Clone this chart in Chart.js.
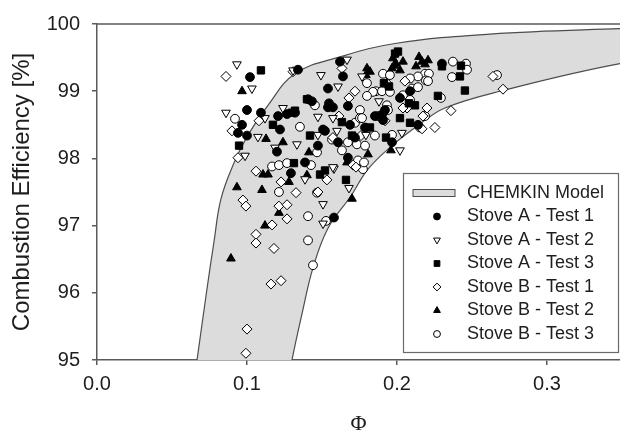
<!DOCTYPE html>
<html lang="en">
<head>
<meta charset="utf-8">
<script src="https://cdn.jsdelivr.net/npm/chart.js"></script>
<style>
  html, body { margin: 0; padding: 0; background: #fff; }
  #wrap { width: 620px; height: 433px; }
</style>
</head>
<body>
<div id="wrap"><canvas id="ceChart" width="620" height="433"></canvas></div>
<script>
const xTicks = [0.0, 0.1, 0.2, 0.3];
const yTicks = [95, 96, 97, 98, 99, 100];

// CHEMKIN model band edges [phi, efficiency %]
const bandUpper = [[0.0635, 94.5], [0.0667, 95.0], [0.0727, 95.96], [0.078, 96.76], [0.0827, 97.40],
  [0.0913, 97.93], [0.1007, 98.35], [0.114, 98.79], [0.132, 99.26], [0.162, 99.51], [0.1987, 99.71],
  [0.262, 99.85], [0.3487, 99.93], [0.402, 99.96]];
const bandLower = [[0.126, 94.5], [0.130, 95.0], [0.1367, 95.69], [0.144, 96.37], [0.154, 96.96],
  [0.1693, 97.44], [0.1807, 97.84], [0.1967, 98.19], [0.214, 98.49], [0.232, 98.75], [0.2707, 99.01],
  [0.3487, 99.41], [0.402, 99.56]];

// measured points [phi, efficiency %]
const stoveA1 = [[0.102, 99.21], [0.100, 98.72], [0.1093, 98.68], [0.0967, 98.50], [0.100, 98.34], [0.094, 98.38],
  [0.122, 98.43], [0.120, 98.10], [0.1207, 98.63], [0.132, 98.68], [0.1267, 98.66], [0.1293, 97.78], [0.134, 99.32],
  [0.1407, 98.88], [0.158, 97.12], [0.1473, 98.19], [0.152, 98.41], [0.154, 98.76], [0.1573, 98.76], [0.1673, 98.78],
  [0.1687, 98.50], [0.1607, 98.24], [0.1673, 98.01], [0.1853, 98.63], [0.190, 98.65], [0.1967, 98.24], [0.1907, 98.57],
  [0.192, 98.72], [0.214, 98.50], [0.162, 99.44], [0.164, 99.22], [0.154, 99.04], [0.1433, 98.85], [0.1547, 98.82],
  [0.230, 99.41], [0.1507, 98.43], [0.1387, 97.94], [0.172, 98.31], [0.1787, 98.46], [0.202, 98.90], [0.2087, 99.00]];
const stoveA2 = [[0.0933, 99.40], [0.1033, 99.04], [0.086, 98.68], [0.112, 98.60], [0.124, 98.75], [0.1307, 99.31],
  [0.1073, 98.32], [0.1187, 98.16], [0.1333, 98.21], [0.0987, 98.04], [0.1507, 97.32], [0.168, 97.56], [0.158, 97.85],
  [0.1473, 98.35], [0.1473, 98.62], [0.160, 98.41], [0.2033, 98.38], [0.1667, 99.47], [0.1493, 99.24], [0.1607, 99.07],
  [0.1573, 98.60], [0.1767, 99.22], [0.1387, 97.69], [0.1573, 97.87], [0.1507, 97.03], [0.202, 98.12], [0.1793, 98.35],
  [0.188, 98.85]];
const stoveA3 = [[0.1093, 99.31], [0.1173, 98.50], [0.0947, 98.19], [0.132, 98.71], [0.142, 98.34], [0.1313, 97.93],
  [0.1487, 97.76], [0.152, 97.82], [0.166, 97.68], [0.1633, 98.54], [0.140, 98.88], [0.130, 98.68], [0.1987, 99.56],
  [0.2007, 99.59], [0.1913, 99.12], [0.1947, 99.07], [0.230, 99.37], [0.2427, 99.38], [0.242, 99.22], [0.2453, 99.01],
  [0.2273, 98.93], [0.208, 98.82], [0.212, 98.79], [0.202, 98.60], [0.182, 98.46], [0.170, 98.34], [0.1927, 98.31],
  [0.2087, 98.53]];
const stoveB1 = [[0.086, 99.22], [0.108, 98.56], [0.090, 98.41], [0.094, 98.01], [0.106, 97.81], [0.1227, 97.65],
  [0.1327, 97.49], [0.0973, 97.38], [0.0993, 97.29], [0.1213, 97.29], [0.1267, 97.31], [0.1267, 97.10], [0.1167, 97.01],
  [0.106, 96.87], [0.106, 96.74], [0.118, 96.66], [0.116, 96.13], [0.1227, 96.18], [0.100, 95.46], [0.0993, 95.10],
  [0.1473, 97.50], [0.1533, 97.68], [0.1613, 98.63], [0.176, 98.34], [0.1707, 97.90], [0.1727, 97.87], [0.192, 98.56],
  [0.2067, 98.75], [0.2167, 98.44], [0.2253, 98.46], [0.220, 98.75], [0.2173, 98.63], [0.236, 98.71], [0.264, 99.22],
  [0.2707, 99.03], [0.2053, 99.15], [0.204, 98.75], [0.1633, 99.34], [0.172, 99.00], [0.168, 98.90], [0.1307, 99.29],
  [0.1573, 98.31], [0.1933, 99.12]];
const stoveB2 = [[0.0967, 99.00], [0.1127, 98.29], [0.124, 98.24], [0.1107, 97.76], [0.114, 97.76], [0.128, 97.65],
  [0.0933, 97.57], [0.110, 97.53], [0.1213, 97.19], [0.112, 97.00], [0.0893, 96.51], [0.140, 97.75], [0.1413, 98.09],
  [0.170, 97.40], [0.1807, 98.06], [0.196, 98.12], [0.180, 99.34], [0.182, 99.29], [0.1793, 99.24], [0.198, 99.38],
  [0.1973, 99.49], [0.1993, 99.41], [0.204, 99.44], [0.1967, 99.34], [0.202, 99.31], [0.2147, 99.51], [0.2167, 99.44],
  [0.2207, 99.46], [0.2187, 99.40], [0.2127, 99.37], [0.1667, 97.94]];
const stoveB3 = [[0.092, 98.59], [0.1167, 97.88], [0.1213, 97.90], [0.1267, 97.93], [0.1213, 97.50], [0.1353, 98.47],
  [0.1407, 97.14], [0.1407, 96.78], [0.144, 96.41], [0.1527, 97.07], [0.1427, 97.90], [0.1467, 98.09], [0.1453, 98.79],
  [0.1753, 98.72], [0.172, 98.53], [0.1753, 98.60], [0.1567, 98.28], [0.1633, 98.12], [0.1673, 98.24], [0.1733, 98.21],
  [0.1787, 98.19], [0.174, 97.97], [0.1773, 97.84], [0.178, 97.94], [0.1873, 98.63], [0.1853, 98.34], [0.1967, 98.35],
  [0.2187, 98.63], [0.1907, 99.26], [0.1953, 99.24], [0.180, 99.12], [0.186, 99.00], [0.190, 99.00], [0.184, 98.99],
  [0.1953, 98.99], [0.180, 98.93], [0.1933, 98.79], [0.194, 98.72], [0.1767, 98.60], [0.2187, 99.26], [0.2213, 99.26],
  [0.2193, 99.16], [0.2207, 99.15], [0.214, 99.22], [0.2373, 99.44], [0.246, 99.41], [0.2467, 99.32], [0.2367, 99.21],
  [0.2293, 98.90], [0.2153, 98.46], [0.2087, 99.19], [0.210, 99.04], [0.214, 99.06], [0.204, 98.94], [0.2087, 98.87],
  [0.2667, 99.24], [0.1467, 97.49]];

const sans = "'Liberation Sans', Arial, sans-serif";
const txt = '#1e1e1e';
const axisCol = '#5a5a5a';
const bandFill = '#dcdcdc';
const bandLine = '#4d4d4d';

const markers = [
  { label: 'Stove A - Test 1', data: stoveA1, style: 'circle', r: 4.4, rot: 0, open: false },
  { label: 'Stove A - Test 2', data: stoveA2, style: 'triangle', r: 5, rot: 180, open: true },
  { label: 'Stove A - Test 3', data: stoveA3, style: 'rect', r: 5.2, rot: 0, open: false },
  { label: 'Stove B - Test 1', data: stoveB1, style: 'rectRot', r: 5, rot: 0, open: true },
  { label: 'Stove B - Test 2', data: stoveB2, style: 'triangle', r: 5, rot: 0, open: false },
  { label: 'Stove B - Test 3', data: stoveB3, style: 'circle', r: 4.4, rot: 0, open: true }
];

const toXY = arr => arr.map(p => ({ x: p[0], y: p[1] }));

// band outline: upper edge left->right, lower edge back right->left
const bandShape = bandUpper.concat(bandLower.slice().reverse());

const legendBox = {
  id: 'legendBox',
  afterDraw(chart) {
    const c = chart.ctx, a = chart.chartArea;
    // top frame line
    c.save();
    c.strokeStyle = axisCol;
    c.lineWidth = 1.5;
    c.beginPath();
    c.moveTo(a.left, a.top);
    c.lineTo(a.right, a.top);
    c.stroke();

    const x0 = a.right - 217, y0 = a.bottom - 187, w = 215, h = 179;
    c.fillStyle = '#fff';
    c.fillRect(x0, y0, w, h);
    c.strokeStyle = '#6a6a6a';
    c.lineWidth = 1.2;
    c.strokeRect(x0 + 0.5, y0 + 0.5, w, h);

    c.font = '18px ' + sans;
    c.textBaseline = 'middle';
    c.textAlign = 'left';
    const rowY = i => y0 + 20 + i * 23.5;

    c.fillStyle = bandFill;
    c.fillRect(x0 + 10, rowY(0) - 3.5, 42, 7);
    c.strokeStyle = bandLine;
    c.lineWidth = 1;
    c.strokeRect(x0 + 10, rowY(0) - 3.5, 42, 7);
    c.fillStyle = txt;
    c.fillText('CHEMKIN Model', x0 + 64, rowY(0));

    markers.forEach((m, i) => {
      const y = rowY(i + 1);
      c.fillStyle = m.open ? '#fff' : '#000';
      c.strokeStyle = '#000';
      c.lineWidth = 1;
      Chart.helpers.drawPoint(c, { pointStyle: m.style, radius: m.r * 0.78, rotation: m.rot, borderWidth: 1 }, x0 + 34, y);
      c.fillStyle = txt;
      c.fillText(m.label, x0 + 64, y);
    });
    c.restore();
  }
};

const ctx = document.getElementById('ceChart').getContext('2d');

new Chart(ctx, {
  type: 'scatter',
  data: {
    datasets: [
      ...markers.map((m, i) => ({
        label: m.label,
        data: toXY(m.data),
        pointStyle: m.style,
        pointRadius: m.r,
        pointRotation: m.rot,
        pointBackgroundColor: m.open ? '#fff' : '#000',
        pointBorderColor: '#000',
        pointBorderWidth: 1,
        showLine: false,
        order: i
      })),
      {
        label: 'CHEMKIN Model',
        data: toXY(bandShape),
        showLine: true,
        fill: 'shape',
        backgroundColor: bandFill,
        borderColor: bandLine,
        borderWidth: 1.2,
        pointRadius: 0,
        tension: 0.4,
        order: 10
      }
    ]
  },
  options: {
    responsive: false,
    animation: false,
    events: [],
    layout: { autoPadding: false, padding: { top: 20, right: 0, bottom: 0, left: 0 } },
    plugins: {
      legend: { display: false },
      tooltip: { enabled: false }
    },
    scales: {
      x: {
        type: 'linear',
        min: 0,
        max: 0.3487,
        afterBuildTicks: s => { s.ticks = xTicks.map(v => ({ value: v })); },
        afterFit: s => { s.height = 73; },
        grid: { drawOnChartArea: false, drawTicks: true, tickLength: 5, color: axisCol, lineWidth: 1.5 },
        border: { display: true, color: axisCol, width: 1.5 },
        ticks: {
          padding: 7,
          color: txt,
          font: { family: sans, size: 20 },
          maxRotation: 0,
          callback: v => v.toFixed(1)
        },
        title: {
          display: true,
          text: 'Φ',
          color: txt,
          font: { family: "'Liberation Serif', 'DejaVu Serif', serif", size: 22, lineHeight: 0.8 },
          padding: { top: 0, bottom: 0 }
        }
      },
      y: {
        type: 'linear',
        min: 95,
        max: 100,
        afterBuildTicks: s => { s.ticks = yTicks.map(v => ({ value: v })); },
        afterFit: s => { s.width = 97; },
        grid: { drawOnChartArea: false, drawTicks: true, tickLength: 5, color: axisCol, lineWidth: 1.5 },
        border: { display: true, color: axisCol, width: 1.5 },
        ticks: {
          padding: 12,
          color: txt,
          font: { family: sans, size: 20 },
          callback: v => String(v)
        },
        title: {
          display: true,
          text: 'Combustion Efficiency [%]',
          color: txt,
          font: { family: sans, size: 24, lineHeight: 1.2 },
          padding: { top: 8, bottom: 0 }
        }
      }
    }
  },
  plugins: [legendBox]
});
</script>
</body>
</html>
